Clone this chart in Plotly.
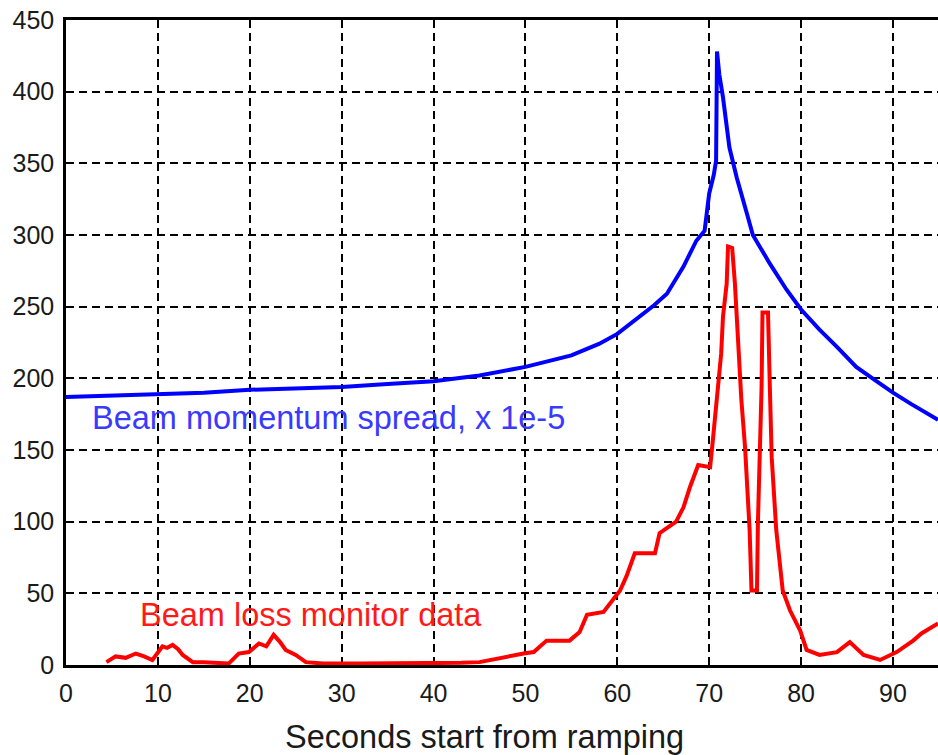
import plotly.graph_objects as go

# Beam momentum spread (x 1e-5)
spread_t = [0, 5, 10, 15, 20, 25, 30, 35, 40, 45, 50, 55, 58, 60, 62, 64, 65.4,
            67.2, 68.6, 69.5, 70.0, 70.5, 70.75, 70.85, 71.1, 71.5, 72.2, 73.0,
            74.1, 74.75, 76.6, 78.4, 80, 82, 83.9, 86, 88, 90, 92, 94.9]
spread_v = [187, 188, 189, 190, 192, 193, 194, 196, 198, 202, 208, 216, 224,
            231, 241, 251, 259, 278, 296, 303, 329, 342, 352, 428, 412, 396,
            361, 340, 315, 300, 280, 262, 248, 234, 222, 208, 199, 190, 182, 171]

# Beam loss monitor data
loss_t = [4.4, 5.4, 6.5, 7.6, 8.5, 9.4, 10.5, 11.0, 11.6, 12.2,
          12.7, 13.8, 15, 16.5, 17.7, 18.8, 19.9, 21.0, 21.8, 22.6,
          23.3, 23.9, 25.0, 26.1, 28, 32, 36, 40, 43, 45.0,
          47.2, 49.8, 50.9, 52.3, 54.8, 55.9, 56.7, 58.5, 60.3, 61.0,
          61.9, 64.1, 64.6, 66.4, 67.2, 67.9, 68.8, 70.1, 70.4, 70.9,
          71.3, 71.5, 71.9, 72.05, 72.5, 72.8, 73.0, 73.3, 73.5, 73.9,
          74.2, 74.4, 74.6, 75.2, 75.3, 75.5, 75.7, 75.8, 76.4, 76.6,
          76.8, 77.3, 77.7, 78.0, 78.8, 79.9, 80.6, 82.0, 83.9, 85.3,
          86.8, 88.6, 90.4, 92.2, 93.1, 94.9]
loss_v = [2, 6, 5, 8, 6, 3.5, 13, 12, 14, 11,
          7, 2, 2, 1.5, 1, 8, 9, 15, 13, 21,
          16, 10.5, 7, 2, 1, 1, 1, 1, 1.5, 2,
          5, 8, 9, 17, 17, 23, 35, 37, 52, 62,
          78, 78, 92, 100, 110, 124, 139.5, 138, 157, 194,
          217, 243, 266, 292, 291, 266, 243, 220, 185, 152,
          120, 94, 52, 52, 99, 148, 194, 246, 246, 194,
          145, 94, 73, 52, 38, 24, 10.5, 7, 9, 16,
          7, 3.5, 9, 17, 22, 29, 20]

x_ticks = [0, 10, 20, 30, 40, 50, 60, 70, 80, 90]
y_ticks = [0, 50, 100, 150, 200, 250, 300, 350, 400, 450]

FONT = "Liberation Sans, Arial, sans-serif"

fig = go.Figure()
fig.add_trace(go.Scatter(x=loss_t, y=loss_v, mode="lines",
                         line=dict(color="#ff0000", width=4), showlegend=False))
fig.add_trace(go.Scatter(x=spread_t, y=spread_v, mode="lines",
                         line=dict(color="#0000ff", width=4), showlegend=False))

fig.add_annotation(x=2.6, y=172, xref="x", yref="y", xanchor="left", yanchor="middle",
                   text="Beam momentum spread, x 1e-5", showarrow=False,
                   font=dict(family=FONT, size=32.5, color="#3a3aff"))
fig.add_annotation(x=7.8, y=35, xref="x", yref="y", xanchor="left", yanchor="middle",
                   text="Beam loss monitor data", showarrow=False,
                   font=dict(family=FONT, size=32.5, color="#ff1a1a"))
# x-axis title
fig.add_annotation(x=0.4805, y=-0.1116, xref="paper", yref="paper",
                   xanchor="center", yanchor="middle",
                   text="Seconds start from ramping", showarrow=False,
                   font=dict(family=FONT, size=32.5, color="#1a1a1a"))

grid = dict(showgrid=True, gridcolor="black", gridwidth=1.8, griddash="8px,5px")

fig.update_xaxes(range=[0, 94.9], tickvals=x_ticks, ticktext=[str(v) for v in x_ticks],
                 showline=True, linecolor="black", linewidth=2.5, mirror=True,
                 zeroline=False, ticks="", ticklabelstandoff=4, automargin=False,
                 ticklabeloverflow="allow",
                 tickfont=dict(family=FONT, size=25, color="#1a1a1a"),
                 **grid)
fig.update_yaxes(range=[0, 450], tickvals=y_ticks, ticktext=[str(v) for v in y_ticks],
                 showline=True, linecolor="black", linewidth=2.5, mirror=False,
                 zeroline=False, ticks="", ticklabelstandoff=4, automargin=False,
                 ticklabeloverflow="allow",
                 tickfont=dict(family=FONT, size=25, color="#1a1a1a"),
                 **grid)

fig.update_layout(width=938, height=755,
                  margin=dict(l=66, r=0, t=20, b=90, autoexpand=False),
                  paper_bgcolor="white", plot_bgcolor="white")

# remove the default 8px page margin so the figure fills the window exactly
fig.write_html("out.html",
               config={"displayModeBar": False},
               post_script="document.body.style.margin='0';document.body.style.overflow='hidden';")
